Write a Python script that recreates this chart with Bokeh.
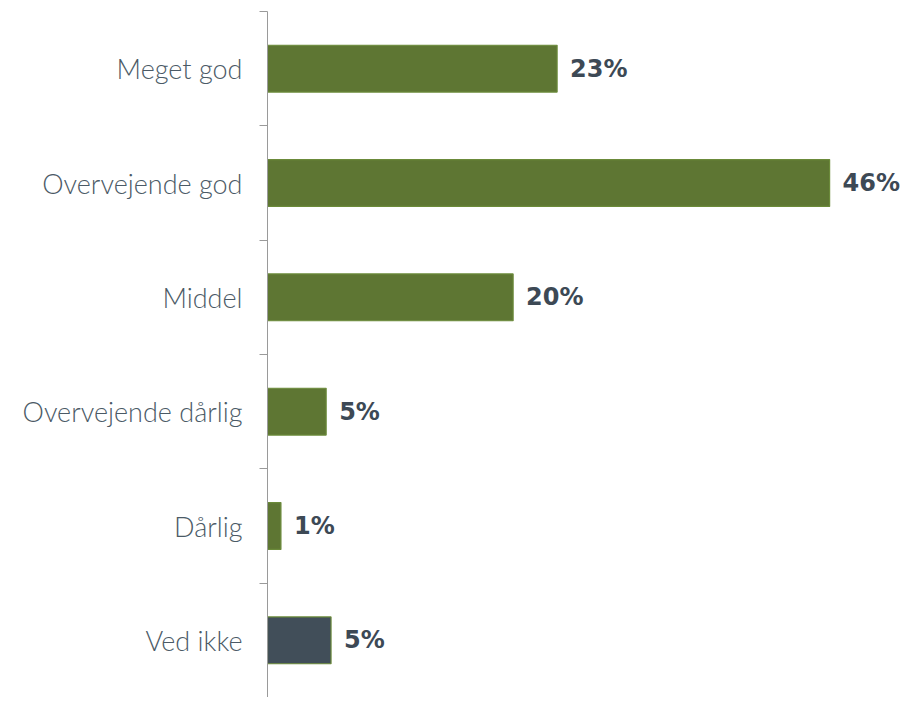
from bokeh.plotting import figure
from bokeh.models import ColumnDataSource, Range1d, FixedTicker
from bokeh.embed import file_html
from bokeh.resources import INLINE
from bokeh.core.properties import value

categories = ["Meget god", "Overvejende god", "Middel", "Overvejende dårlig", "Dårlig", "Ved ikke"]
values = [23.7, 46.0, 20.1, 4.8, 1.1, 5.2]
value_labels = ["23%", "46%", "20%", "5%", "1%", "5%"]
fills = ["#5e7633", "#5e7633", "#5e7633", "#5e7633", "#5e7633", "#414e59"]

n = len(categories)
ypos = [n - 0.5 - i for i in range(n)]
src = ColumnDataSource(dict(y=ypos, val=values, lab=value_labels, fill=fills))

W = 903
p = figure(width=W, height=697, output_backend="svg", toolbar_location=None,
           y_range=Range1d(0, n), x_range=Range1d(0, (W - 267) / 12.22),
           min_border_left=267, min_border_right=0, min_border_top=11, min_border_bottom=0)

p.hbar(y="y", right="val", left=0, height=0.41, source=src,
       fill_color="fill", line_color="#6b8a3a", line_width=1.2)
p.text(x="val", y="y", text="lab", source=src, x_offset=13,
       text_baseline="middle", text_align="left",
       text_font=value("DejaVu Sans"), text_font_style="bold",
       text_font_size="24px", text_color="#3d4955")

p.xaxis.visible = False
p.xgrid.visible = False
p.ygrid.visible = False
p.outline_line_color = None

ax = p.yaxis[0]
ax.ticker = FixedTicker(ticks=ypos, minor_ticks=list(range(n + 1)))
ax.major_label_overrides = {y: c for y, c in zip(ypos, categories)}
ax.axis_line_color = "#9a9a9a"
ax.major_tick_line_color = None
ax.major_tick_out = 0
ax.major_tick_in = 0
ax.minor_tick_line_color = "#9a9a9a"
ax.minor_tick_out = 8
ax.minor_tick_in = 0
ax.major_label_standoff = 17
ax.major_label_text_font = "Lato Light, Lato"
ax.major_label_text_font_size = "27px"
ax.major_label_text_color = "#4b5a66"
ax.major_label_text_font_style = "normal"

open("out.html", "w").write(file_html(p, INLINE))
